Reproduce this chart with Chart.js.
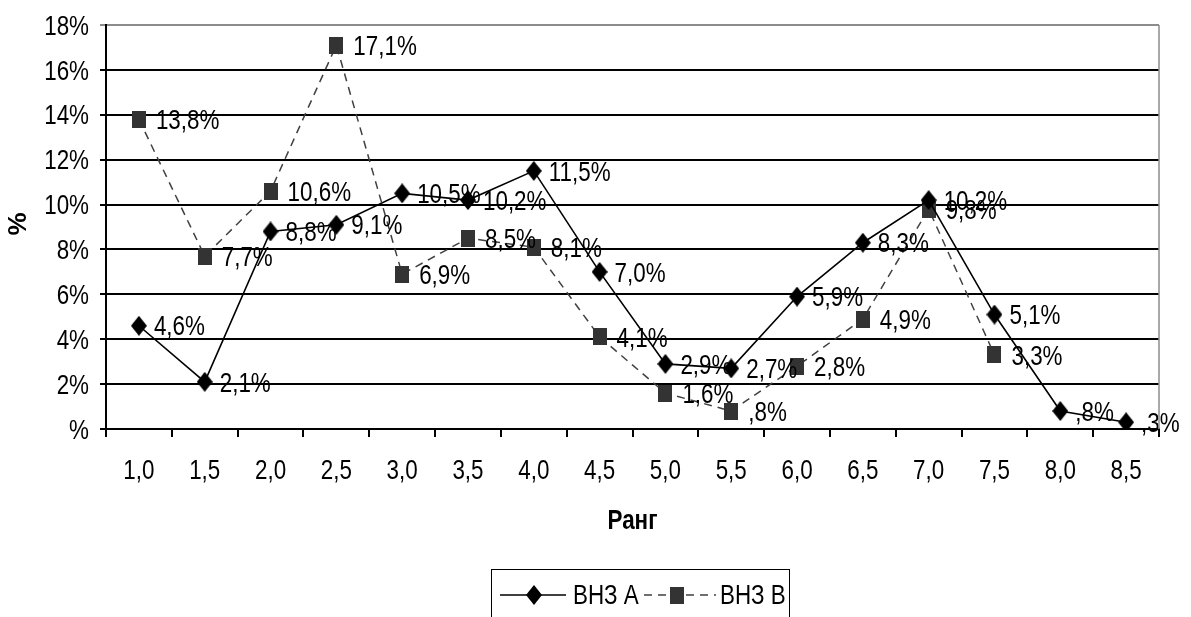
<!DOCTYPE html>
<html>
<head>
<meta charset="utf-8">
<script src="https://cdn.jsdelivr.net/npm/chart.js@4/dist/chart.umd.min.js"></script>
<style>
html,body{margin:0;padding:0;background:#fff;}
#wrap{width:1191px;height:617px;position:relative;}
</style>
</head>
<body>
<div id="wrap"><canvas id="c" width="1191" height="617"></canvas></div>
<script>
const categories = ['1,0','1,5','2,0','2,5','3,0','3,5','4,0','4,5','5,0','5,5','6,0','6,5','7,0','7,5','8,0','8,5'];
const seriesA = [4.6, 2.1, 8.8, 9.1, 10.5, 10.2, 11.5, 7.0, 2.9, 2.7, 5.9, 8.3, 10.2, 5.1, 0.8, 0.3];
const seriesB = [13.8, 7.7, 10.6, 17.1, 6.9, 8.5, 8.1, 4.1, 1.6, 0.8, 2.8, 4.9, 9.8, 3.3, null, null];
const seriesNames = ['ВНЗ А', 'ВНЗ В'];
const yMin = 0, yMax = 18, yStep = 2;
const xTitle = 'Ранг';
const yTitle = '%';

const FONT = '"Liberation Sans", Arial, sans-serif';
const FS = 28;        // font size
const SX = 0.8;       // horizontal condensing (narrow look)
Chart.defaults.font.family = FONT;
Chart.defaults.color = '#000';

function fmtVal(v){
  let s = v.toFixed(1).replace('.', ',');
  if (v < 1) s = s.replace(/^0/, '');
  return s + '%';
}
function fmtTick(v){ return v === 0 ? '%' : v + '%'; }

function narrowText(ctx, text, x, y, align, font){
  ctx.save();
  ctx.font = font || (FS + 'px ' + FONT);
  ctx.translate(x, y);
  ctx.scale(SX, 1);
  ctx.textAlign = align;
  ctx.textBaseline = 'middle';
  ctx.fillText(text, 0, 0);
  ctx.restore();
}

function makeDiamond(){
  const c = document.createElement('canvas');
  c.width = 16; c.height = 20;
  const g = c.getContext('2d');
  g.fillStyle = '#000';
  g.beginPath();
  g.moveTo(8, 0); g.lineTo(16, 10); g.lineTo(8, 20); g.lineTo(0, 10);
  g.closePath(); g.fill();
  return c;
}
function makeSquare(){
  const c = document.createElement('canvas');
  c.width = 14; c.height = 17;
  const g = c.getContext('2d');
  g.fillStyle = '#333';
  g.fillRect(0, 0, 14, 17);
  return c;
}
const diamondImg = makeDiamond();
const squareImg = makeSquare();

const textPlugin = {
  id: 'textLayer',
  afterDatasetsDraw(chart){
    const ctx = chart.ctx;
    ctx.save();
    ctx.fillStyle = '#000';
    chart.data.datasets.forEach((ds, di) => {
      const meta = chart.getDatasetMeta(di);
      const off = di === 0 ? 15 : 17;
      meta.data.forEach((pt, i) => {
        const v = ds.data[i];
        if (v === null || v === undefined) return;
        narrowText(ctx, fmtVal(v), pt.x + off, pt.y + 2, 'left');
      });
    });
    ctx.restore();
  },
  afterDraw(chart){
    const ctx = chart.ctx;
    const a = chart.chartArea;
    const xs = chart.scales.x, ys = chart.scales.y;
    ctx.save();
    ctx.fillStyle = '#000';
    // right border of plot area
    ctx.strokeStyle = '#8c8c8c';
    ctx.lineWidth = 1.5;
    ctx.beginPath();
    ctx.moveTo(a.right, a.top);
    ctx.lineTo(a.right, a.bottom);
    ctx.stroke();
    // x tick labels
    xs.ticks.forEach((t, i) => {
      narrowText(ctx, categories[i], xs.getPixelForTick(i), a.bottom + 42, 'center');
    });
    // y tick labels
    ys.ticks.forEach((t, i) => {
      narrowText(ctx, fmtTick(t.value), a.left - 17, ys.getPixelForValue(t.value) + 2, 'right');
    });
    // axis titles
    narrowText(ctx, xTitle, (a.left + a.right) / 2, a.bottom + 92, 'center', 'bold ' + FS + 'px ' + FONT);
    ctx.save();
    ctx.translate(19, (a.top + a.bottom) / 2 - 3);
    ctx.rotate(-Math.PI / 2);
    ctx.font = 'bold 26px ' + FONT;
    ctx.textAlign = 'center';
    ctx.textBaseline = 'middle';
    ctx.fillText(yTitle, 0, 0);
    ctx.restore();
    // legend
    const bx = 491.5, by = 569.5, bw = 298, bh = 60;
    ctx.strokeStyle = '#000';
    ctx.lineWidth = 1;
    ctx.strokeRect(bx, by, bw, bh);
    const cy = 595;
    ctx.strokeStyle = '#000';
    ctx.lineWidth = 1.5;
    ctx.setLineDash([]);
    ctx.beginPath(); ctx.moveTo(500, cy); ctx.lineTo(566, cy); ctx.stroke();
    ctx.drawImage(diamondImg, 534 - 8, cy - 10);
    narrowText(ctx, seriesNames[0], 573, cy + 1, 'left');
    ctx.strokeStyle = '#404040';
    ctx.setLineDash([8, 6]);
    ctx.beginPath(); ctx.moveTo(644, cy); ctx.lineTo(716, cy); ctx.stroke();
    ctx.setLineDash([]);
    ctx.drawImage(squareImg, 677 - 7, cy - 8);
    narrowText(ctx, seriesNames[1], 720, cy + 1, 'left');
    ctx.restore();
  }
};

new Chart(document.getElementById('c'), {
  type: 'line',
  data: {
    labels: categories,
    datasets: [
      {
        label: seriesNames[0],
        data: seriesA,
        borderColor: '#000',
        backgroundColor: '#000',
        borderWidth: 1.6,
        pointStyle: diamondImg,
        pointRadius: 8,
        tension: 0,
        spanGaps: false
      },
      {
        label: seriesNames[1],
        data: seriesB,
        borderColor: '#404040',
        backgroundColor: '#333',
        borderWidth: 1.5,
        borderDash: [8, 6],
        pointStyle: squareImg,
        pointRadius: 8,
        tension: 0,
        spanGaps: false
      }
    ]
  },
  options: {
    responsive: false,
    animation: false,
    events: [],
    layout: { padding: { left: 0, top: 25, right: 32, bottom: 0 } },
    plugins: {
      legend: { display: false },
      tooltip: { enabled: false }
    },
    scales: {
      x: {
        offset: true,
        grid: {
          offset: true,
          drawOnChartArea: false,
          drawTicks: true,
          tickLength: 8,
          color: '#000',
          lineWidth: 2
        },
        border: { display: true, color: '#000', width: 2 },
        ticks: { display: false, autoSkip: false, maxRotation: 0 },
        afterFit(scale){ scale.height = 188; }
      },
      y: {
        min: yMin,
        max: yMax,
        ticks: { display: false, stepSize: yStep },
        grid: {
          color: (c) => (c.tick && c.tick.value === yMax ? '#8c8c8c' : '#000'),
          lineWidth: 2,
          tickLength: 6,
          drawTicks: true
        },
        border: { display: true, color: '#000', width: 2 },
        afterFit(scale){ scale.width = 106; }
      }
    }
  },
  plugins: [textPlugin]
});
</script>
</body>
</html>
